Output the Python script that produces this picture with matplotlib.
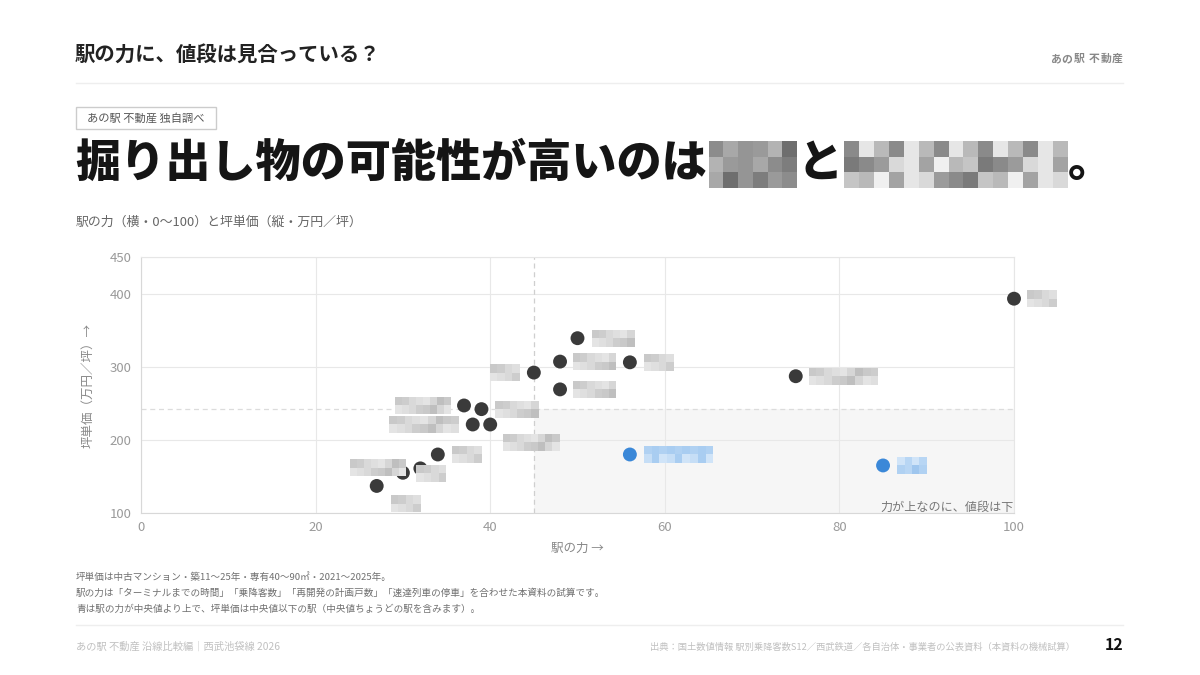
import matplotlib
matplotlib.use('Agg')
import matplotlib.pyplot as plt
from matplotlib.patches import Rectangle
import numpy as np

plt.rcParams['font.family'] = ['Noto Sans CJK JP', 'DejaVu Sans']

# 駅の力（横・0〜100）と坪単価（縦・万円／坪）
power = [100, 75, 50, 48, 56, 45, 48, 37, 39, 38, 40, 34, 32, 30, 27, 56, 85]
price = [393, 287, 339, 307, 306, 292, 269, 247, 242, 221, 221, 180, 161, 155, 137, 180, 165]
# 駅名はモザイクで伏せてあるので文字数だけ持つ
name_len = [2, 5, 3, 3, 2, 2, 3, 4, 3, 5, 4, 2, 2, 4, 2, 5, 2]

x_ticks = [0, 20, 40, 60, 80, 100]
y_ticks = [100, 200, 300, 400, 450]

header = '駅の力に、値段は見合っている？'
brand = 'あの駅 不動産'
badge = 'あの駅 不動産 独自調べ'
title_head = '掘り出し物の可能性が高いのは'
title_mid = 'と'
title_end = '。'
subtitle = '駅の力（横・0〜100）と坪単価（縦・万円／坪）'
note_text = '力が上なのに、値段は下'
footnotes = [
    '坪単価は中古マンション・築11〜25年・専有40〜90㎡・2021〜2025年。',
    '駅の力は「ターミナルまでの時間」「乗降客数」「再開発の計画戸数」「速達列車の停車」を合わせた本資料の試算です。',
    '青は駅の力が中央値より上で、坪単価は中央値以下の駅（中央値ちょうどの駅を含みます）。',
]
footer_left = 'あの駅 不動産 沿線比較編｜西武池袋線 2026'
footer_right = '出典：国土数値情報 駅別乗降客数S12／西武鉄道／各自治体・事業者の公表資料（本資料の機械試算）'
page_no = '12'

# ラベル（モザイク箱）の置き方: 点からのずれ(px)、'l'=箱の左端 / 'r'=箱の右端
label_pos = [(13, 0, 'l'), (13, 0, 'l'), (14, 0, 'l'), (13, 0, 'l'), (14, 0, 'l'), (-14, 0, 'r'),
             (13, 0, 'l'), (-13, 0, 'r'), (14, 0, 'l'), (-14, 0, 'r'), (13, 18, 'l'), (14, 0, 'l'),
             (-4, 5, 'l'), (3, -5, 'r'), (14, 18, 'l'), (14, 0, 'l'), (14, 0, 'l')]

gray_tones = ['#c9c9c9', '#d6d6d6', '#dfdfdf', '#cdcdcd', '#bfbfbf', '#e4e4e4', '#d9d9d9']
blue_tones = ['#a9cdf1', '#b8d6f4', '#c6def6', '#b0d1f2', '#d0e4f8', '#9fc6ee']
title_tones1 = ['#8c8c8c', '#6e6e6e', '#9a9a9a', '#a8a8a8', '#7d7d7d', '#b3b3b3', '#959595']
title_tones2 = ['#b9b9b9', '#a3a3a3', '#d9d9d9', '#8a8a8a', '#c5c5c5', '#f0f0f0', '#e6e6e6', '#9b9b9b', '#7a7a7a']

W, H = 1200, 675
fig = plt.figure(figsize=(12, 6.75), dpi=100)


def fx(x):
    return x / W


def fy(y):
    return 1 - y / H


def mosaic(x0, y0, w, h, ncol, nrow, tones, seed=0):
    cw = w / ncol
    ch = h / nrow
    for i in range(nrow):
        for j in range(ncol):
            c = tones[(i * 5 + j * 3 + seed * 7 + i * j) % len(tones)]
            fig.add_artist(Rectangle((fx(x0 + j * cw), fy(y0 + (i + 1) * ch)), cw / W, ch / H,
                                     transform=fig.transFigure, facecolor=c, edgecolor='none',
                                     zorder=5))


# ヘッダー
fig.text(fx(75), fy(55), header, fontsize=14.7, fontweight='bold', color='#222222', va='center')
bx = 1123
for ch in reversed(brand):
    if ch == ' ':
        bx -= 4
        continue
    fig.text(fx(bx), fy(59), ch, fontsize=7.8, fontweight='bold', color='#888888',
             va='center', ha='right')
    bx -= 11.6
fig.add_artist(plt.Line2D([fx(76), fx(1123)], [fy(83), fy(83)], color='#eeeeee', lw=1))

# バッジ
fig.add_artist(Rectangle((fx(76), fy(129)), 140 / W, 22 / H, transform=fig.transFigure,
                         facecolor='white', edgecolor='#cccccc', lw=1))
fig.text(fx(87), fy(118), badge, fontsize=8.1, color='#555555', va='center')

# 大見出し（伏せ字はモザイク）
r = fig.canvas.get_renderer()
t_size = 32.5
em = t_size * 100 / 72
hidden = [name_len[i] for i in sorted(range(len(power)), key=lambda k: -power[k])
          if power[i] > np.median(power) and price[i] <= np.median(price)]
parts = [title_head, (hidden[0], title_tones1), title_mid, (hidden[1], title_tones2), title_end]
x = 75
for k, part in enumerate(parts):
    if isinstance(part, str):
        t = fig.text(fx(x), fy(163), part, fontsize=t_size, fontweight='black', color='#151515',
                     va='center', ha='left')
        x += t.get_window_extent(r).width
    else:
        n, tones = part
        w = n * em
        mosaic(x + 2, 141, w - 2, 47, max(1, round(w / 15.5)), 3, tones, seed=k)
        x += w

fig.text(fx(76), fy(222), subtitle, fontsize=9.3, color='#666666', va='center')

# 散布図
ax = fig.add_axes([fx(141), fy(513), 873 / W, 256 / H])
ax.set_xlim(0, 100)
ax.set_ylim(100, 450)
ax.set_xticks(x_ticks)
ax.set_yticks(y_ticks)
ax.set_axisbelow(True)
ax.grid(True, color='#e8e8e8', lw=0.8)
for s in ax.spines.values():
    s.set_color('#e6e6e6')
ax.spines['left'].set_color('#d8d8d8')
ax.spines['bottom'].set_color('#d8d8d8')
ax.tick_params(length=0, labelsize=9.5, labelcolor='#9a9a9a')
ax.tick_params(axis='x', pad=6)
ax.tick_params(axis='y', pad=7)

mx = np.median(power)
my = np.median(price)
ax.add_patch(Rectangle((mx, 100), 100 - mx, my - 100, facecolor='#f6f6f6', edgecolor='none', zorder=0))
ax.axvline(mx, color='#cfcfcf', ls=(0, (4, 3)), lw=0.9, zorder=1)
ax.axhline(my, color='#dcdcdc', ls=(0, (4, 3)), lw=0.9, zorder=1)

is_blue = [(p > mx) and (v <= my) for p, v in zip(power, price)]
colors = ['#3b88d8' if b else '#3a3a3a' for b in is_blue]
ax.scatter(power, price, s=100, c=colors, edgecolors='none', zorder=3, clip_on=False)

ax.annotate(note_text, xy=(1, 0), xycoords='axes fraction', xytext=(0, 6),
            textcoords='offset pixels', ha='right', va='center', fontsize=8.7, color='#777777')

fig.text(fx(88), fy(385), '坪単価（万円／坪）→', rotation=90, fontsize=9, color='#888888',
         ha='center', va='center')
fig.text(fx(577), fy(548), '駅の力 →', fontsize=9, color='#888888', ha='center', va='center')

# 駅名ラベル（モザイク）
for i in range(len(power)):
    px, py = ax.transData.transform((power[i], price[i]))
    py = H - py
    w = 13.2 * name_len[i] + 3.5
    dx, dy, al = label_pos[i]
    left = px + dx if al == 'l' else px + dx - w
    top = py + dy - 8.5
    tones = blue_tones if is_blue[i] else gray_tones
    mosaic(left, top, w, 17, max(1, round(w / 7.5)), 2, tones, seed=i)

# 注記とフッター
for k, line in enumerate(footnotes):
    fig.text(fx(76), fy(577 + 16 * k), line, fontsize=6.9, color='#707070', va='center')
fig.add_artist(plt.Line2D([fx(76), fx(1123)], [fy(625), fy(625)], color='#eeeeee', lw=1))
fig.text(fx(76), fy(647), footer_left, fontsize=7.4, color='#c0c0c0', va='center')
fig.text(fx(1075), fy(647), footer_right, fontsize=6.7, color='#c0c0c0', va='center', ha='right')
fig.text(fx(1124), fy(645), page_no, fontsize=11.5, fontweight='bold', color='#111111',
         va='center', ha='right')

fig.savefig('out.png', dpi=100, facecolor='white')
